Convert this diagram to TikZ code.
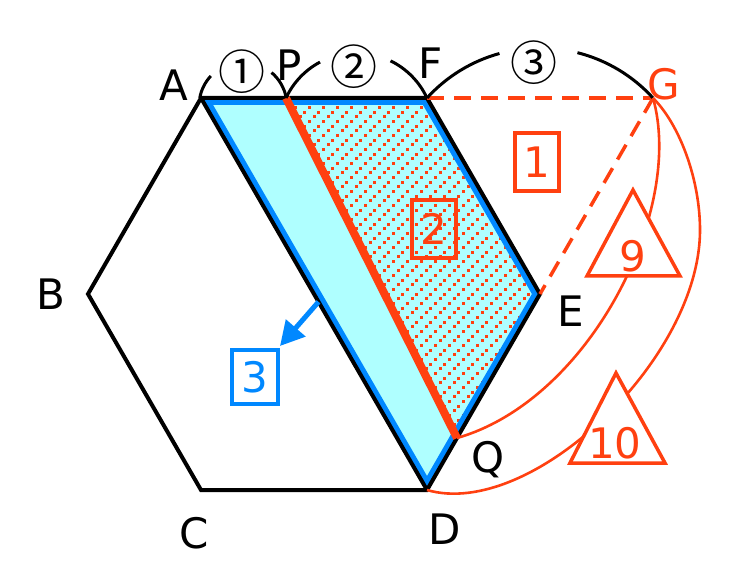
\documentclass[tikz,border=0pt]{standalone}
\usepackage{fontspec}
\setmainfont{DejaVu Sans}
\newfontfamily\cjkfont{Noto Sans CJK JP}
\usetikzlibrary{arrows.meta,calc}
\definecolor{rd}{RGB}{255,64,16}
\definecolor{bl}{RGB}{0,136,255}
\definecolor{cy}{RGB}{175,255,255}
\begin{document}
\begin{tikzpicture}[x=1pt,y=1pt,
  lab/.style={font=\fontsize{42}{50}\selectfont, inner sep=0pt},
  circ/.style={font=\cjkfont\fontsize{47}{50}\selectfont, inner sep=0pt},
  hexline/.style={black, line width=4pt, line join=miter},
  markarc/.style={black, line width=3pt},
  redcurve/.style={rd, line width=2.6pt},
  reddash/.style={rd, line width=3.5pt, dash pattern=on 17pt off 10pt},
  tri/.style={rd, line width=3.5pt, fill=white, line join=miter},
  redbox/.style={lab, draw=rd, text=rd, line width=3.5pt, minimum width=44pt, minimum height=58pt},
  bluebox/.style={lab, draw=bl, text=bl, line width=3.5pt, minimum width=46pt, minimum height=54pt}
]
\useasboundingbox (0,0) rectangle (742,-580);
\fill[white] (0,0) rectangle (742,-580);
% vertices
\coordinate (A) at (201,-98);
\coordinate (B) at (88,-294);
\coordinate (C) at (201,-490);
\coordinate (D) at (427,-490);
\coordinate (E) at (540,-294);
\coordinate (F) at (427,-98);
\coordinate (G) at (653,-98);
\coordinate (P) at (286,-98);
\coordinate (Q) at (457,-438);
% fills
\fill[cy] (A) -- (P) -- (Q) -- (D) -- cycle;
\fill[cy] (P) -- (F) -- (E) -- (Q) -- cycle;
\begin{scope}
  \clip (P) -- (F) -- (E) -- (Q) -- cycle;
  \foreach \i in {0,...,19}{
    \foreach \j in {0,...,25}{
      \foreach \k in {0,1,2}{
        \fill[rd] ({280+14*\i+4.67*\k},{-445+14*\j+4.67*\k}) rectangle ++(3,3);
      }
    }
  }
\end{scope}
% blue inner band
\begin{scope}
  \clip (A) -- (F) -- (E) -- (D) -- cycle;
  \draw[bl, line width=14pt] (A) -- (F) -- (E) -- (D) -- cycle;
\end{scope}
% hexagon and diagonal
\draw[hexline] (A) -- (B) -- (C) -- (D) -- (E) -- (F) -- cycle;
\draw[hexline] (A) -- (D);
% red cut line
\draw[rd, line width=8pt] (P) -- (Q);
% dashed triangle
\draw[reddash] (F) -- (G);
\draw[reddash] (G) -- (E);
% marking arcs
\coordinate (o1) at (243,-106);
\coordinate (o2) at (356.5,-130.7);
\coordinate (o3) at (540,-200.7);
\draw[markarc] (o1) ++(169.5:44pt) arc[start angle=169.5, end angle=137, radius=44pt];
\draw[markarc] (o1) ++(49.5:44pt) arc[start angle=49.5, end angle=10.5, radius=44pt];
\draw[markarc] (o2) ++(155.1:77.7pt) arc[start angle=155.1, end angle=118, radius=77.7pt];
\draw[markarc] (o2) ++(64:77.7pt) arc[start angle=64, end angle=24.9, radius=77.7pt];
\draw[markarc] (o3) ++(137.7:152.7pt) arc[start angle=137.7, end angle=105.4, radius=152.7pt];
\draw[markarc] (o3) ++(75.8:152.7pt) arc[start angle=75.8, end angle=42.3, radius=152.7pt];
% red curves
\coordinate (M) at (700,-230);
\draw[redcurve] (G) .. controls (685,-210) and (590,-400) .. (Q);
\draw[redcurve] (G) .. controls (680,-125) and (700,-180) .. (M) .. controls (700,-360) and (530,-520) .. (D);
% triangles
\draw[tri] (633,-190) -- (587,-276) -- (680,-276) -- cycle;
\draw[tri] (616,-373) -- (570,-463) -- (665,-463) -- cycle;
\node[lab, text=rd] (t9) at (633,-256) {9};
\node[lab, text=rd] (t10) at (615,-443) {10};
% boxes
\node[redbox] (b1) at (537,-162) {1};
\node[redbox] (b2) at (434,-229) {2};
\node[bluebox] (b3) at (255,-377) {3};
% blue arrow
\coordinate (as) at ($(A)!0.52!(D)$);
\coordinate (at) at (280,-346);
\draw[bl, line width=5pt, -{Triangle[length=24pt, width=25pt]}] (as) -- (at);
% labels
\node[lab] (lA) at (174,-85) {A};
\node[lab] (lB) at (51,-294) {B};
\node[lab] (lC) at (194,-533) {C};
\node[lab] (lD) at (445,-529) {D};
\node[lab] (lE) at (571,-311) {E};
\node[lab] (lF) at (431,-63) {F};
\node[lab, text=rd] (lG) at (664,-84) {G};
\node[lab] (lP) at (289,-65) {P};
\node[lab] (lQ) at (488,-460) {Q};
\node[circ] (c1) at (241.5,-71.5) {①};
\node[circ] (c2) at (354,-66.5) {②};
\node[circ] (c3) at (534,-62.5) {③};
\end{tikzpicture}
\end{document}
